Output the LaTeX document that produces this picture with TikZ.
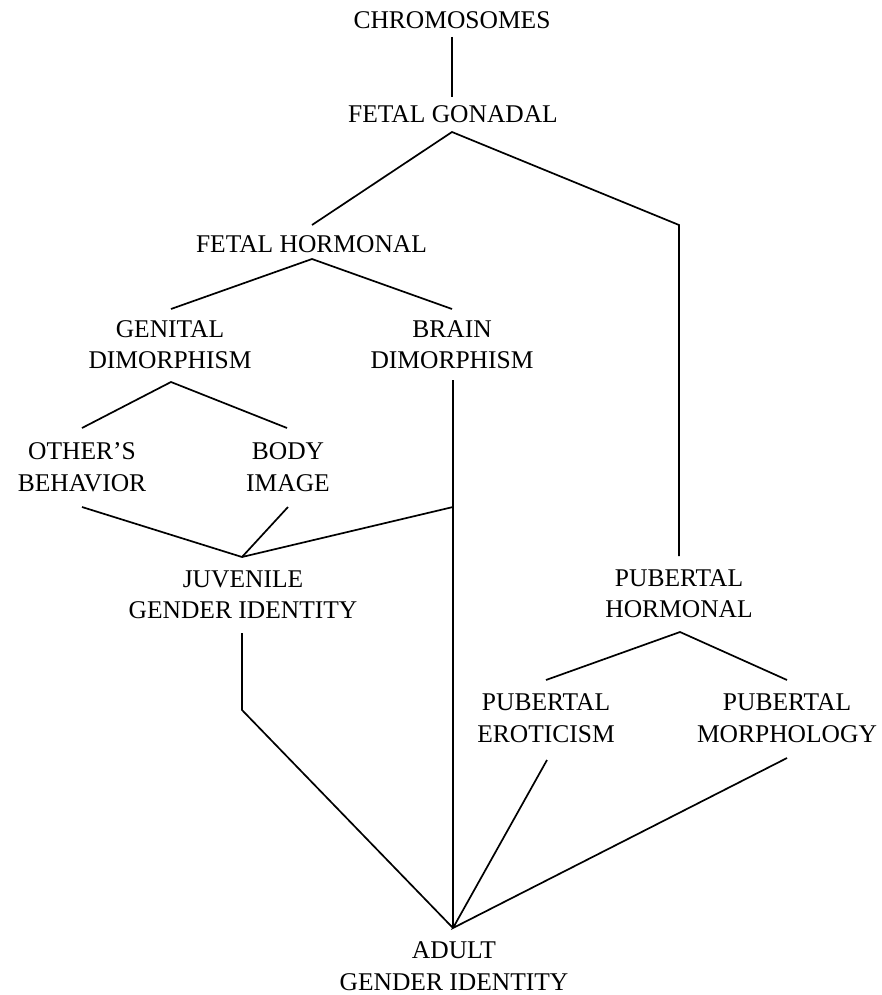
\documentclass[tikz,border=0pt]{standalone}
\usepackage{fontspec}
\setmainfont{Liberation Serif}
\begin{document}
\begin{tikzpicture}[x=1pt,y=-1pt,
  lbl/.style={anchor=base,inner sep=0pt,font=\fontsize{25.5}{31}\selectfont},
  conn/.style={line width=1.7pt,line join=miter,line cap=butt}]
\useasboundingbox (0,0) rectangle (881,995);
% text nodes
\node[lbl] (chrom) at (452,29) {CHROMOSOMES};
\node[lbl] (gon) at (453,123) {FETAL GONADAL};
\node[lbl] (fh) at (311.5,252) {FETAL HORMONAL};
\node[lbl] (gen1) at (170,337) {GENITAL};
\node[lbl] (gen2) at (170,368) {DIMORPHISM};
\node[lbl] (br1) at (452,337) {BRAIN};
\node[lbl] (br2) at (452,368) {DIMORPHISM};
\node[lbl] (ot1) at (82,459) {OTHER’S};
\node[lbl] (ot2) at (82,491) {BEHAVIOR};
\node[lbl] (bo1) at (288,459) {BODY};
\node[lbl] (bo2) at (288,491) {IMAGE};
\node[lbl] (ju1) at (243,587) {JUVENILE};
\node[lbl] (ju2) at (243,618) {GENDER IDENTITY};
\node[lbl] (ph1) at (679,586) {PUBERTAL};
\node[lbl] (ph2) at (679,617) {HORMONAL};
\node[lbl] (pe1) at (546,710) {PUBERTAL};
\node[lbl] (pe2) at (546,742) {EROTICISM};
\node[lbl] (pm1) at (787,710) {PUBERTAL};
\node[lbl] (pm2) at (787,742) {MORPHOLOGY};
\node[lbl] (ad1) at (454,958) {ADULT};
\node[lbl] (ad2) at (454,990) {GENDER IDENTITY};
% connector end points
\coordinate (chromB) at (452,37);
\coordinate (gonT) at (452,97);
\coordinate (gonB) at (452,132);
\coordinate (fhT) at (312,225);
\coordinate (rcorner) at (679,225);
\coordinate (phT) at (679,556);
\coordinate (fhB) at (312,259);
\coordinate (genT) at (171,309);
\coordinate (brT) at (452,309);
\coordinate (genB) at (171,382);
\coordinate (otT) at (82,428);
\coordinate (boT) at (287,428);
\coordinate (brB) at (453,380);
\coordinate (brJ) at (453,507);
\coordinate (otB) at (82,507);
\coordinate (boB) at (288,507);
\coordinate (juT) at (242,557);
\coordinate (juB) at (242,633);
\coordinate (jcorner) at (242,710);
\coordinate (adT) at (453,928);
\coordinate (phB) at (680,632);
\coordinate (peT) at (546,680);
\coordinate (pmT) at (787,680);
\coordinate (peB) at (547,760);
\coordinate (pmB) at (787,758);
% connectors
\draw[conn] (chromB) -- (gonT);
\draw[conn] (fhT) -- (gonB) -- (rcorner) -- (phT);
\draw[conn] (genT) -- (fhB) -- (brT);
\draw[conn] (otT) -- (genB) -- (boT);
\draw[conn] (brB) -- (adT);
\draw[conn] (otB) -- (juT) -- (boB);
\draw[conn] (juT) -- (brJ);
\draw[conn] (juB) -- (jcorner) -- (adT);
\draw[conn] (peT) -- (phB) -- (pmT);
\draw[conn] (peB) -- (adT) -- (pmB);
\end{tikzpicture}
\end{document}
